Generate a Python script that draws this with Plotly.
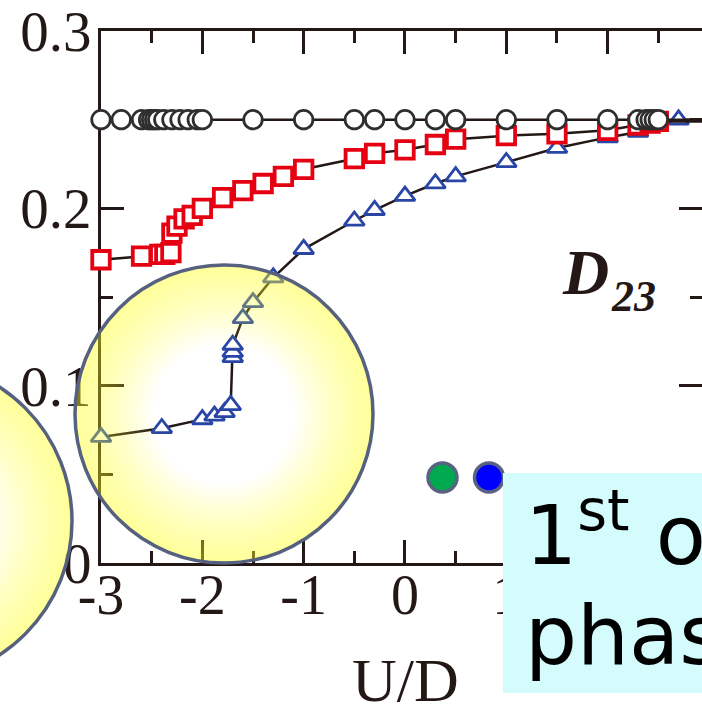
import numpy as np
import plotly.graph_objects as go

# ---------------- data ----------------
circ_x = [-3.0, -2.8, -2.6, -2.53, -2.5, -2.47, -2.44, -2.38, -2.3, -2.22, -2.14, -2.05, -2.0,
          -1.5, -1.0, -0.5, -0.3, 0.0, 0.3, 0.5, 1.0, 1.5, 2.0, 2.3, 2.38, 2.42, 2.46, 2.5, 2.95]
circ_y = [0.25, 0.25, 0.25, 0.25, 0.25, 0.25, 0.25, 0.25, 0.25, 0.25, 0.25, 0.25, 0.25,
          0.25, 0.25, 0.25, 0.25, 0.25, 0.25, 0.25, 0.25, 0.25, 0.25, 0.25, 0.25, 0.25, 0.25, 0.25, 0.25]

sq_x = [-3.0, -2.6, -2.42, -2.37, -2.31, -2.3, -2.25, -2.18, -2.1, -2.0, -1.8, -1.6, -1.4, -1.2,
        -1.0, -0.5, -0.3, 0.0, 0.3, 0.5, 1.0, 1.5, 2.0, 2.3, 2.42, 2.5, 2.95]
sq_y = [0.171, 0.173, 0.174, 0.174, 0.175, 0.186, 0.190, 0.194, 0.196, 0.200, 0.206, 0.210, 0.214, 0.218,
        0.222, 0.228, 0.231, 0.233, 0.236, 0.239, 0.241, 0.242, 0.244, 0.247, 0.248, 0.249, 0.249]

tri_x = [-3.0, -2.4, -2.0, -1.88, -1.78, -1.72, -1.70, -1.70, -1.70, -1.6, -1.5, -1.3, -1.0,
         -0.5, -0.3, 0.0, 0.3, 0.5, 1.0, 1.5, 2.0, 2.3, 2.45, 2.7, 2.95]
tri_y = [0.071, 0.076, 0.081, 0.083, 0.085, 0.089, 0.116, 0.119, 0.123, 0.138, 0.147, 0.161, 0.177,
         0.193, 0.199, 0.207, 0.214, 0.218, 0.226, 0.234, 0.240, 0.243, 0.247, 0.250, 0.250]

x_ticks = [-3, -2, -1, 0, 1, 2]
x_labels = ["-3", "-2", "-1", "0", "1", "2"]
x_minor = [-2.5, -1.5, -0.5, 0.5, 1.5, 2.5]
y_ticks = [0, 0.1, 0.2, 0.3]
y_labels = ["0", "0.1", "0.2", "0.3"]
y_minor = [0.05, 0.15, 0.25]

x_title = "U/D"
panel_label = "D"
panel_sub = "23"
box_line1 = "1<sup>st</sup> order"
box_line2 = "phase transition"

# ---------------- layout geometry (pixels) ----------------
W, H = 702, 704
PL, PR, PT, PB = 101, 702, 31, 563
X_MIN = -3.0
X_MAX = -3.0 + (PR - PL) / 101.33

INK = "#231815"
SERIF = "Liberation Serif"
SANS = "DejaVu Sans"


def fx(px):
    return (px - PL) / (PR - PL)


def fy(py):
    return (PB - py) / (PB - PT)


def poly(pts):
    s = "M%.5f,%.5f" % (fx(pts[0][0]), fy(pts[0][1]))
    for p in pts[1:]:
        s += "L%.5f,%.5f" % (fx(p[0]), fy(p[1]))
    return s + "Z"


def ring_path(cx, cy, r_in, r_out, n=120):
    t = np.linspace(0, 2 * np.pi, n, endpoint=False)
    outer = [(cx + r_out * np.cos(a), cy + r_out * np.sin(a)) for a in t]
    inner = [(cx + r_in * np.cos(a), cy - r_in * np.sin(a)) for a in t]
    return poly(outer) + poly(inner)


def glow_circle(cx, cy, R):
    shapes = []
    K = 16
    for k in range(K):
        r_in = R * (0.48 + 0.50 * k / (K - 1))
        shapes.append(dict(type="path", xref="paper", yref="paper", layer="above",
                           path=ring_path(cx, cy, r_in, R),
                           fillcolor="rgba(250,244,60,0.04)", line=dict(width=0)))
    shapes.append(dict(type="circle", xref="paper", yref="paper", layer="above",
                       x0=fx(cx - R), x1=fx(cx + R), y0=fy(cy + R), y1=fy(cy - R),
                       line=dict(color="#56607f", width=3.5), fillcolor="rgba(0,0,0,0)"))
    return shapes


def dot(cx, cy, r, color):
    return dict(type="circle", xref="paper", yref="paper", layer="above",
                x0=fx(cx - r), x1=fx(cx + r), y0=fy(cy + r), y1=fy(cy - r),
                line=dict(color="#5a6282", width=3.5), fillcolor=color)


fig = go.Figure()

fig.add_trace(go.Scatter(
    x=tri_x, y=tri_y, mode="lines+markers", cliponaxis=False,
    line=dict(color=INK, width=2.5),
    marker=dict(symbol="triangle-up", size=17.5, color="white",
                line=dict(color="#2946a6", width=2.8)),
    showlegend=False, hoverinfo="skip"))

fig.add_trace(go.Scatter(
    x=sq_x, y=sq_y, mode="lines+markers", cliponaxis=False,
    line=dict(color=INK, width=2.5),
    marker=dict(symbol="square", size=17.5, color="white",
                line=dict(color="#e50012", width=3.8)),
    showlegend=False, hoverinfo="skip"))

fig.add_trace(go.Scatter(
    x=circ_x, y=circ_y, mode="lines+markers", cliponaxis=False,
    line=dict(color=INK, width=2.5),
    marker=dict(symbol="circle", size=18.5, color="white",
                line=dict(color="#2e2e2e", width=2.8)),
    showlegend=False, hoverinfo="skip"))

# empty trace so that the right-hand (mirror) tick axis is drawn
fig.add_trace(go.Scatter(x=[None], y=[None], yaxis="y2", mode="markers",
                         showlegend=False, hoverinfo="skip"))

shapes = []
shapes += glow_circle(224, 414, 149)
shapes += glow_circle(-88, 521, 160)
shapes.append(dot(442.5, 477.5, 14.5, "#00a84f"))
shapes.append(dot(489, 477.5, 14.5, "#0000ff"))
shapes.append(dict(type="rect", xref="paper", yref="paper", layer="above",
                   x0=fx(503), x1=fx(712), y0=fy(693), y1=fy(473),
                   fillcolor="#d5fcfc", line=dict(width=0)))

annotations = [
    dict(xref="paper", yref="paper", x=fx(405), y=fy(680), text=x_title, showarrow=False,
         xanchor="center", yanchor="middle", font=dict(family=SERIF, size=62, color=INK)),
    dict(xref="paper", yref="paper", x=fx(560), y=fy(310), text="<b><i>%s</i></b>" % panel_label,
         showarrow=False, xanchor="left", yanchor="bottom",
         font=dict(family=SERIF, size=64, color=INK)),
    dict(xref="paper", yref="paper", x=fx(609), y=fy(323), text="<b><i>%s</i></b>" % panel_sub,
         showarrow=False, xanchor="left", yanchor="bottom",
         font=dict(family=SERIF, size=44, color=INK)),
    dict(xref="paper", yref="paper", x=fx(523), y=fy(585), text=box_line1, showarrow=False,
         xanchor="left", yanchor="bottom", align="left",
         font=dict(family=SANS, size=82, color="black")),
    dict(xref="paper", yref="paper", x=fx(523), y=fy(685), text=box_line2, showarrow=False,
         xanchor="left", yanchor="bottom", align="left",
         font=dict(family=SANS, size=82, color="black")),
]

axis_common = dict(showgrid=False, zeroline=False, ticks="inside", tickwidth=3, tickcolor=INK,
                   ticklen=23, layer="below traces", fixedrange=True)

fig.update_layout(
    width=W, height=H,
    margin=dict(l=PL, r=W - PR, t=PT, b=H - PB, pad=0),
    paper_bgcolor="white", plot_bgcolor="white",
    xaxis=dict(range=[X_MIN, X_MAX], showline=True, linewidth=3, linecolor=INK, mirror="ticks",
               tickmode="array", tickvals=x_ticks, ticktext=x_labels, ticklabelstandoff=-19,
               ticklabeloverflow="allow",
               tickfont=dict(family=SERIF, size=56, color=INK), automargin=False,
               minor=dict(tickmode="array", tickvals=x_minor, ticks="inside", ticklen=12,
                          tickwidth=3, tickcolor=INK, showgrid=False),
               **axis_common),
    yaxis=dict(range=[0, 0.3], showline=True, linewidth=3, linecolor=INK,
               tickmode="array", tickvals=y_ticks, ticktext=y_labels, ticklabelstandoff=-5,
               ticklabeloverflow="allow",
               tickfont=dict(family=SERIF, size=57, color=INK), automargin=False,
               minor=dict(tickmode="array", tickvals=y_minor, ticks="inside", ticklen=12,
                          tickwidth=3, tickcolor=INK, showgrid=False),
               **axis_common),
    yaxis2=dict(range=[0, 0.3], overlaying="y", side="right", anchor="x", showline=False,
                tickmode="array", tickvals=y_ticks, showticklabels=False, automargin=False,
                minor=dict(tickmode="array", tickvals=y_minor, ticks="inside", ticklen=12,
                           tickwidth=3, tickcolor=INK, showgrid=False),
                **axis_common),
    shapes=shapes,
    annotations=annotations,
    showlegend=False,
)

fig.write_html("out.html")
